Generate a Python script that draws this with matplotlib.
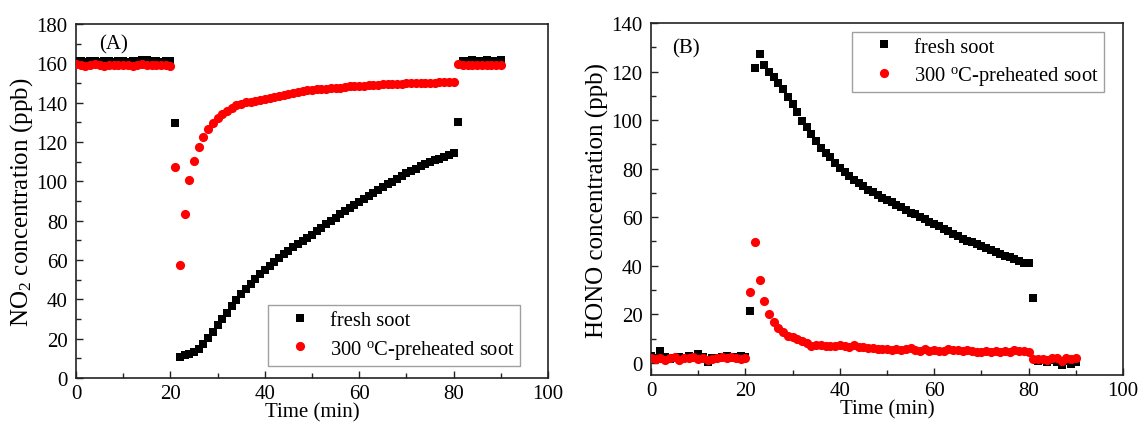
import matplotlib
matplotlib.use("Agg")
import matplotlib.pyplot as plt
from matplotlib.ticker import MultipleLocator

plt.rcParams['font.family'] = ['Liberation Serif', 'DejaVu Serif']
plt.rcParams['mathtext.fontset'] = 'custom'
plt.rcParams['mathtext.rm'] = 'Liberation Serif'
plt.rcParams['mathtext.it'] = 'Liberation Serif:italic'
plt.rcParams['mathtext.bf'] = 'Liberation Serif:bold'

# ---------------- data ----------------
time_min = list(range(0, 91))

no2_fresh = [161.0, 161.3, 160.8, 161.2, 161.0, 160.9, 161.4, 161.0, 160.8, 161.1,
             161.2, 160.9, 161.0, 161.3, 161.5, 161.7, 161.2, 161.0, 160.9, 161.1,
             161.0,
             129.6,
             10.6, 11.5, 12.3, 13.2, 14.8, 17.3, 20.3, 23.5, 26.8, 30.0,
             33.3, 36.5, 39.6, 42.5, 45.3, 48.0, 50.5, 52.8, 55.0, 57.1,
             59.1, 61.0, 62.9, 64.8, 66.6, 68.3, 69.9, 71.3, 72.7, 74.5,
             76.3, 78.1, 79.9, 81.6, 83.2, 84.8, 86.4, 88.0, 89.5, 91.1,
             92.7, 94.2, 95.7, 97.1, 98.5, 99.9, 101.3, 102.7, 104.0, 105.2,
             106.4, 107.6, 108.7, 109.7, 110.7, 111.6, 112.5, 113.4, 114.2,
             130.2,
             161.3, 161.0, 161.5, 161.2, 161.4, 161.8, 161.1, 161.3, 161.5]

no2_preheated = [159.5, 159.0, 158.8, 159.2, 159.6, 159.0, 158.7, 159.1, 159.3, 158.9,
                 159.4, 159.0, 158.8, 159.2, 159.5, 159.1, 158.9, 159.3, 159.4, 159.0,
                 158.8,
                 107.1, 57.3, 83.4, 100.7, 110.5, 117.5, 122.5, 126.5, 129.8, 132.3,
                 134.3, 136.0, 137.5, 138.7, 139.5, 140.1, 140.5, 140.9, 141.3, 141.7,
                 142.3, 142.9, 143.6, 144.1, 144.5, 145.1, 145.4, 145.7, 146.2, 146.4,
                 146.8, 147.1, 147.2, 147.5, 147.6, 147.7, 148.0, 148.3, 148.4, 148.6,
                 148.7, 148.8, 149.0, 149.2, 149.3, 149.3, 149.5, 149.7, 149.7, 149.8,
                 149.9, 150.0, 150.0, 150.1, 150.2, 150.2, 150.3, 150.4, 150.5, 150.6,
                 159.8, 159.3, 159.0, 159.4, 159.1, 158.9, 159.3, 159.0, 159.2, 158.9]

hono_fresh = [3.0, 2.0, 4.8, 2.5, 1.5, 2.0, 2.5, 2.0, 3.0, 2.2,
              3.5, 2.5, 0.5, 2.0, 2.2, 2.5, 3.0, 2.0, 2.5, 3.0,
              2.5,
              21.5, 121.5, 127.2, 122.5, 119.7, 117.7, 115.2, 112.8, 109.4, 106.6,
              103.4, 99.7, 97.0, 94.1, 91.4, 88.7, 86.5, 84.6, 82.3, 80.4,
              78.6, 76.9, 75.5, 74.1, 72.8, 71.4, 70.2, 69.1, 68.1, 67.2,
              66.3, 65.2, 64.0, 62.9, 61.9, 61.2, 60.1, 59.1, 58.0, 57.2,
              56.2, 55.2, 54.2, 53.2, 52.3, 51.2, 50.3, 49.6, 48.9, 48.2,
              47.2, 46.5, 45.8, 45.0, 44.2, 43.5, 42.8, 42.0, 41.2, 41.0,
              26.8,
              0.8, 1.0, 0.5, 1.2, 0.4, -0.8, 0.6, -0.3, 0.5]

hono_preheated = [1.8, 1.5, 2.0, 1.2, 1.8, 2.5, 1.0, 2.2, 1.8, 2.4,
                  1.6, 2.0, 1.2, 1.5, 2.0, 2.3, 1.8, 2.6, 2.0, 1.5,
                  1.8,
                  29.0, 49.8, 34.0, 25.5, 20.2, 16.8, 14.5, 12.6, 11.2, 10.6,
                  9.8, 9.0, 8.0, 7.0, 7.4, 7.2, 7.0, 6.8, 6.9, 7.2,
                  6.9, 6.5, 7.4, 6.6, 6.4, 6.0, 6.2, 5.8, 5.9, 5.6,
                  5.5, 5.8, 5.4, 5.6, 6.0, 5.2, 5.0, 5.6, 5.0, 5.3,
                  4.8, 5.0, 5.6, 5.2, 5.4, 5.0, 5.3, 4.9, 4.4, 4.3,
                  4.7, 4.5, 4.8, 4.5, 4.9, 4.6, 5.2, 5.0, 4.8, 4.4,
                  1.5, 1.4, 1.6, 1.2, 1.8, 2.0, 0.6, 1.8, 1.4, 1.9]

label_fresh = "fresh soot"
label_pre = "300 $^{\\rm o}$C-preheated soot"

# ---------------- figure ----------------
W, H = 1138, 427
fig = plt.figure(figsize=(W / 100, H / 100), dpi=100)

axA = fig.add_axes([76 / W, 1 - 379 / H, (548 - 76) / W, (379 - 25) / H])
axB = fig.add_axes([651 / W, 1 - 376 / H, (1123 - 651) / W, (376 - 24) / H])

fs_tick = 15
fs_xlab = 15
fs_ylab = 18
fs_leg = 14.8
for ax in (axA, axB):
    for sp in ax.spines.values():
        sp.set_linewidth(1.2)
        sp.set_color('#222222')
    ax.xaxis.set_major_locator(MultipleLocator(20))
    ax.xaxis.set_minor_locator(MultipleLocator(10))
    ax.yaxis.set_major_locator(MultipleLocator(20))
    ax.yaxis.set_minor_locator(MultipleLocator(10))
    ax.tick_params(which='both', direction='in', top=False, right=False,
                   labelsize=fs_tick, width=1.0, color='#222222')
    ax.tick_params(which='major', length=5)
    ax.tick_params(which='minor', length=3.5)
    ax.tick_params(axis='y', which='major', pad=6)
    ax.tick_params(axis='x', which='major', pad=4)
    ax.set_xlim(0, 100)
    ax.set_xlabel("Time (min)", fontsize=fs_xlab, labelpad=0)

ms_sq = 6.2
ms_ci = 6.6

# Panel A
axA.plot(time_min, no2_fresh, 's', color='black', ms=ms_sq, mec='black', mew=0,
         label=label_fresh, zorder=3)
axA.plot(time_min, no2_preheated, 'o', color='#ff0000', ms=ms_ci, mec='#ff0000', mew=0,
         label=label_pre, zorder=4)
axA.set_ylim(0, 180)
axA.set_ylabel("NO$_2$ concentration (ppb)", fontsize=fs_ylab)
axA.yaxis.set_label_coords(-41 / 472, 0.5)
axA.text(0.049, 0.972, "(A)", transform=axA.transAxes, fontsize=fs_tick, va='top', ha='left')

# Panel B
axB.plot(time_min, hono_fresh, 's', color='black', ms=ms_sq, mec='black', mew=0,
         label=label_fresh, zorder=3)
axB.plot(time_min, hono_preheated, 'o', color='#ff0000', ms=ms_ci, mec='#ff0000', mew=0,
         label=label_pre, zorder=4)
axB.set_ylim(-5, 140)
axB.set_ylabel("HONO concentration (ppb)", fontsize=fs_ylab)
axB.yaxis.set_label_coords(-42 / 472, 0.5)
axB.text(0.044, 0.958, "(B)", transform=axB.transAxes, fontsize=fs_tick, va='top', ha='left')

leg_kw = dict(fontsize=fs_leg, frameon=True, fancybox=False, borderpad=0.25,
              handlelength=2.6, handletextpad=0.15, labelspacing=0.38,
              numpoints=1, borderaxespad=0)
legA = axA.legend(loc='upper left', bbox_to_anchor=(0.4068, 0.2056), **leg_kw)
legB = axB.legend(loc='upper left', bbox_to_anchor=(0.4258, 0.9744), **leg_kw)
for leg in (legA, legB):
    fr = leg.get_frame()
    fr.set_edgecolor('#888888')
    fr.set_linewidth(1.0)

fig.savefig("out.png", dpi=100)
